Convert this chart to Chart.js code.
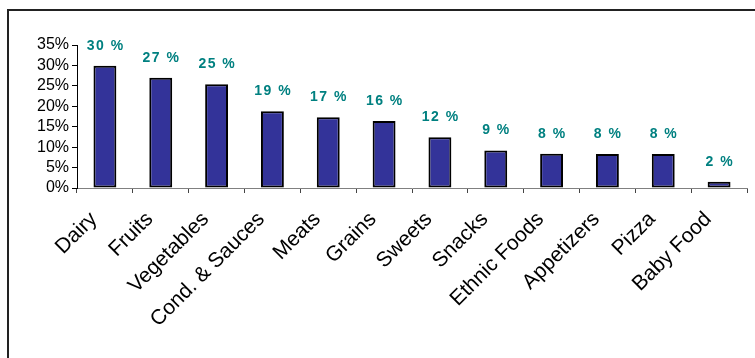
<!DOCTYPE html>
<html>
<head>
<meta charset="utf-8">
<script src="https://cdn.jsdelivr.net/npm/chart.js@4/dist/chart.umd.min.js"></script>
<style>
	html, body { margin: 0; padding: 0; background: #fff; overflow: hidden; }
	#frame {
		position: absolute; left: 7px; top: 9px; width: 800px; height: 400px;
		border-top: 2px solid #222; border-left: 2px solid #222;
	}
	#wrap { position: absolute; left: 0; top: 0; width: 755px; height: 358px; }
</style>
</head>
<body>
<div id="frame"></div>
<div id="wrap"><canvas id="chart"></canvas></div>
<script>
// food categories and the share of each
const categories = ['Dairy', 'Fruits', 'Vegetables', 'Cond. & Sauces', 'Meats', 'Grains',
	'Sweets', 'Snacks', 'Ethnic Foods', 'Appetizers', 'Pizza', 'Baby Food'];
const shares = [29.9, 27.0, 25.4, 18.8, 17.3, 16.4, 12.4, 9.2, 8.4, 8.3, 8.3, 1.5];
const yTicks = [0, 5, 10, 15, 20, 25, 30, 35];

const font = '"Liberation Sans", Arial, sans-serif';

// value written above each bar
const valueLabels = {
	id: 'valueLabels',
	afterDatasetsDraw(chart) {
		const ctx = chart.ctx;
		const meta = chart.getDatasetMeta(0);
		ctx.save();
		ctx.font = 'bold 14px ' + font;
		ctx.fillStyle = '#008080';
		ctx.textAlign = 'center';
		ctx.textBaseline = 'middle';
		ctx.letterSpacing = '1.5px';
		meta.data.forEach((bar, i) => {
			ctx.fillText(Math.round(shares[i]) + ' %', bar.x + 0.75, bar.y - 20);
		});
		ctx.restore();
	}
};

new Chart(document.getElementById('chart'), {
	type: 'bar',
	data: {
		labels: categories,
		datasets: [{
			data: shares,
			backgroundColor: '#333399',
			borderColor: '#000',
			borderWidth: 2,
			borderSkipped: false,
			barPercentage: 0.41,
			categoryPercentage: 1
		}]
	},
	options: {
		responsive: true,
		maintainAspectRatio: false,
		animation: false,
		layout: { padding: { left: 0, top: 45, right: 8, bottom: 0 } },
		plugins: {
			legend: { display: false },
			tooltip: { enabled: false }
		},
		scales: {
			x: {
				afterFit(scale) { scale.height = 170; },
				border: { color: '#808080', width: 1 },
				grid: { offset: true, drawOnChartArea: false, tickLength: 5, color: '#444' },
				ticks: {
					autoSkip: false,
					minRotation: 45,
					maxRotation: 45,
					padding: 14,
					labelOffset: -11,
					color: '#000',
					font: { family: font, size: 21 }
				}
			},
			y: {
				min: 0,
				max: 35,
				afterFit(scale) { scale.width = 77; },
				afterBuildTicks(scale) { scale.ticks = yTicks.map(v => ({ value: v })); },
				border: { color: '#000', width: 1 },
				grid: { drawOnChartArea: false, tickLength: 5, color: '#000' },
				ticks: {
					autoSkip: false,
					padding: 3,
					color: '#000',
					font: { family: font, size: 16 },
					callback: v => v + '%'
				}
			}
		}
	},
	plugins: [valueLabels]
});
</script>
</body>
</html>
